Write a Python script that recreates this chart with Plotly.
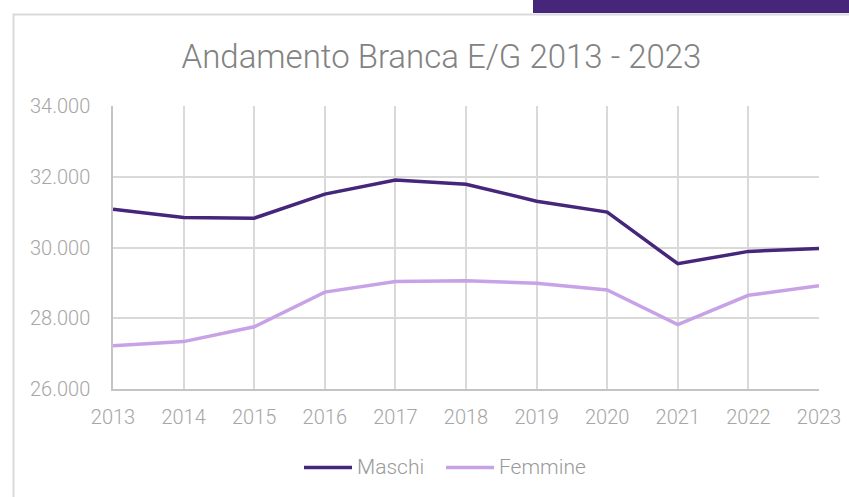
import plotly.graph_objects as go

years = [2013, 2014, 2015, 2016, 2017, 2018, 2019, 2020, 2021, 2022, 2023]
maschi = [31080, 30850, 30830, 31510, 31910, 31790, 31310, 31000, 29540, 29890, 29970]
femmine = [27220, 27340, 27760, 28740, 29040, 29060, 28990, 28800, 27820, 28650, 28920]
y_ticks = [26000, 28000, 30000, 32000, 34000]
y_labels = ["26.000", "28.000", "30.000", "32.000", "34.000"]
series_names = ["Maschi", "Femmine"]
series_colors = ["#45267a", "#c8a2e6"]

W, H = 849, 497
L, R, T, B = 113, 30, 106, 108
pw, ph = W - L - R, H - T - B

def px_x(p):
    return (p - L) / pw

def px_y(p):
    return 1 - (p - T) / ph

font_fam = "Roboto Light, Roboto"

fig = go.Figure()
for name, vals, col in zip(series_names, [maschi, femmine], series_colors):
    fig.add_trace(go.Scatter(x=years, y=vals, mode="lines", name=name,
                             line=dict(color=col, width=3.5), showlegend=False))

# manual legend (longer line samples like the original)
legend_x = [304, 446]
shapes = [
    dict(type="rect", xref="paper", yref="paper",
         x0=px_x(13.5), x1=px_x(860), y0=px_y(510), y1=px_y(14.5),
         line=dict(color="#d9d9d9", width=2), fillcolor="rgba(0,0,0,0)", layer="below"),
    dict(type="rect", xref="paper", yref="paper",
         x0=px_x(533), x1=px_x(860), y0=px_y(13), y1=px_y(-5),
         line=dict(width=0), fillcolor="#45267a", layer="above"),
]
annotations = []
for name, col, lx in zip(series_names, series_colors, legend_x):
    shapes.append(dict(type="line", xref="paper", yref="paper",
                       x0=px_x(lx), x1=px_x(lx + 48), y0=px_y(467.5), y1=px_y(467.5),
                       line=dict(color=col, width=3.5)))
    annotations.append(dict(text=name, xref="paper", yref="paper",
                            x=px_x(lx + 51), y=px_y(467), xanchor="left", yanchor="middle",
                            showarrow=False,
                            font=dict(family=font_fam, size=21, color="#9a9a9a", weight=300)))

fig.update_layout(
    width=W, height=H,
    margin=dict(l=L, r=R, t=T, b=B, autoexpand=False),
    paper_bgcolor="white", plot_bgcolor="white",
    title=dict(text="Andamento Branca E/G 2013 - 2023", x=441.5 / W, xanchor="center",
               y=1 - 56 / H, yanchor="middle",
               font=dict(family=font_fam, size=33, color="#828282", weight=300)),
    font=dict(family=font_fam, weight=300),
    showlegend=False,
    xaxis=dict(range=[2013, 2023], tickvals=years, ticktext=[str(y) for y in years],
               showgrid=True, gridcolor="#d9d9d9", gridwidth=1.5,
               showline=True, linecolor="#c4c4c4", linewidth=1.5,
               zeroline=False, ticks="", ticklabelstandoff=9,
               tickfont=dict(family=font_fam, size=20, color="#a6a6a6", weight=300)),
    yaxis=dict(range=[26000, 34000], tickvals=y_ticks, ticktext=y_labels,
               showgrid=True, gridcolor="#d9d9d9", gridwidth=1.5,
               showline=True, linecolor="#c4c4c4", linewidth=1.5,
               zeroline=False, ticks="", ticklabelstandoff=17,
               tickfont=dict(family=font_fam, size=20, color="#a6a6a6", weight=300)),
    shapes=shapes,
    annotations=annotations,
)

fig.write_html("out.html", config={"displayModeBar": False},
               post_script="document.body.style.margin='0';document.body.style.overflow='hidden';")
